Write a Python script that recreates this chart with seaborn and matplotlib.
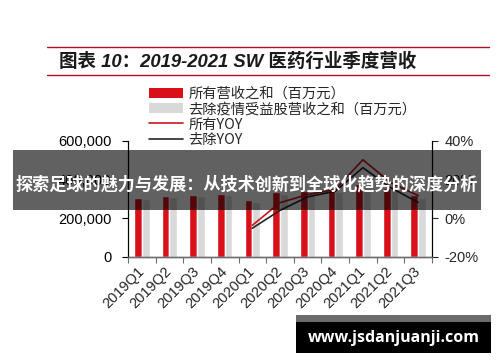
import numpy as np
import pandas as pd
import matplotlib
matplotlib.use('Agg')
import matplotlib.pyplot as plt
import seaborn as sns
from matplotlib.patches import Patch, Rectangle
from matplotlib.lines import Line2D

# data
quarters = ['2019Q1', '2019Q2', '2019Q3', '2019Q4', '2020Q1', '2020Q2',
            '2020Q3', '2020Q4', '2021Q1', '2021Q2', '2021Q3']
revenue_all = [306000, 316000, 323000, 327000, 294000, 336000,
               341000, 346000, 375000, 359000, 320000]
revenue_ex = [302000, 310000, 316000, 321000, 287000, 326000,
              332000, 338000, 358000, 346000, 306000]
yoy_quarters = ['2020Q1', '2020Q2', '2020Q3', '2020Q4', '2021Q1', '2021Q2', '2021Q3']
yoy_all = [-3.6, 8.1, 12.3, 14.9, 30.3, 18.5, 11.8]
yoy_ex = [-5.1, 4.1, 11.1, 14.0, 26.2, 15.9, 8.2]

label_all = '所有营收之和（百万元）'
label_ex = '去除疫情受益股营收之和（百万元）'
label_yoy_all = '所有YOY'
label_yoy_ex = '去除YOY'

red = '#d7101a'
grey = '#d9d9d9'
red_line = '#c8161d'
dark_line = '#262626'

sns.set_theme(style='ticks')
plt.rcParams['font.family'] = ['Liberation Sans', 'Noto Sans CJK SC', 'DejaVu Sans']
cjk = ['Noto Sans CJK SC', 'DejaVu Sans']

fig = plt.figure(figsize=(5, 3.62), dpi=100)
ax = fig.add_axes([0.256, 0.2901, 0.608, 0.3204])

bars = pd.DataFrame({
    'quarter': quarters * 2,
    'revenue': revenue_all + revenue_ex,
    'series': [label_all] * len(quarters) + [label_ex] * len(quarters),
})
sns.barplot(data=bars, x='quarter', y='revenue', hue='series',
            palette=[red, grey], saturation=1, width=0.56, gap=0,
            legend=False, ax=ax)

ax2 = ax.twinx()
lines = pd.DataFrame({
    'pos': [quarters.index(q) for q in yoy_quarters] * 2,
    'yoy': yoy_all + yoy_ex,
    'series': [label_yoy_all] * len(yoy_quarters) + [label_yoy_ex] * len(yoy_quarters),
})
sns.lineplot(data=lines, x='pos', y='yoy', hue='series',
             palette=[red_line, dark_line], linewidth=1.2, legend=False, ax=ax2)

ax.set_xlim(-0.5, len(quarters) - 0.5)
ax.set_ylim(0, 600000)
ax.set_yticks([0, 200000, 400000, 600000])
ax.set_yticklabels(['{:,}'.format(v) for v in [0, 200000, 400000, 600000]], fontsize=10.5)
ax2.set_ylim(-20, 40)
ax2.set_yticks([-20, 0, 20, 40])
ax2.set_yticklabels(['-20%', '0%', '20%', '40%'], fontsize=10.5)

ax.set_xticks(range(len(quarters)))
ax.set_xticklabels(quarters, rotation=45, ha='right', va='center',
                   rotation_mode='anchor', fontsize=10.5)
ax.set_xticks(np.arange(-0.5, len(quarters), 1), minor=True)
ax.tick_params(axis='x', which='major', length=0, pad=9)
ax.tick_params(axis='x', which='minor', length=4, width=0.8, color='#6e6e6e', direction='out')
ax.tick_params(axis='y', length=4, width=0.8, direction='out', pad=8, colors='black')
ax2.tick_params(axis='y', length=4, width=0.8, direction='out', pad=5)
ax.set_xlabel('')
ax.set_ylabel('')
ax2.set_xlabel('')
ax2.set_ylabel('')

for a in (ax, ax2):
    a.spines['top'].set_visible(False)
    a.spines['left'].set_color('black')
    a.spines['right'].set_color('black')
    a.spines['left'].set_linewidth(0.8)
    a.spines['right'].set_linewidth(0.8)
    a.spines['bottom'].set_color('#6e6e6e')
    a.spines['bottom'].set_linewidth(1.0)
    a.set_facecolor('none')

# title block
line_color = '#b0122a'
fig.add_artist(Line2D([0.094, 0.978], [0.870, 0.870], color=line_color, linewidth=1.0))
fig.add_artist(Line2D([0.094, 0.978], [0.793, 0.793], color=line_color, linewidth=1.0))
fig.text(0.118, 0.830, '图表 10：2019-2021 SW 医药行业季度营收', fontsize=13.3,
         fontweight='bold', fontstyle='italic',
         family=['Liberation Sans', 'Noto Sans CJK SC', 'DejaVu Sans'],
         va='center', ha='left', color='#1a1a1a')

handles = [
    Patch(facecolor=red, edgecolor='none', label=label_all),
    Patch(facecolor=grey, edgecolor='none', label=label_ex),
    Line2D([], [], color=red_line, linewidth=1.2, label=label_yoy_all),
    Line2D([], [], color=dark_line, linewidth=1.2, label=label_yoy_ex),
]
fig.legend(handles=handles, loc='upper left', bbox_to_anchor=(0.298, 0.760),
           frameon=False, prop={'family': cjk, 'size': 10.3}, handlelength=2.4,
           handletextpad=0.35, labelspacing=0.09, borderpad=0, borderaxespad=0)

# overlay banner and site mark
fig.add_artist(Rectangle((0.026, 1 - 210 / 362), 0.936, 60 / 362,
                         transform=fig.transFigure, facecolor='black', alpha=0.62,
                         edgecolor='none', zorder=10))
fig.text(0.494, 1 - 184 / 362, '探索足球的魅力与发展：从技术创新到全球化趋势的深度分析',
         fontsize=12.3, fontweight='bold', family=cjk, color='white',
         ha='center', va='center', zorder=11)
fig.add_artist(Rectangle((296 / 500, 1 - 353 / 362), 195 / 500, 38 / 362,
                         transform=fig.transFigure, facecolor='black',
                         edgecolor='none', zorder=10))
fig.add_artist(Rectangle((296 / 500, 1 - 322 / 362), 195 / 500, 7 / 362,
                         transform=fig.transFigure, facecolor='#6b6b6b',
                         edgecolor='none', zorder=10))
fig.text(393.5 / 500, 1 - 338 / 362, 'www.jsdanjuanji.com', fontsize=11.5,
         fontweight='bold', family=['Open Sans', 'DejaVu Sans'], color='white',
         ha='center', va='center', zorder=11)

fig.savefig('out.png', dpi=100)
